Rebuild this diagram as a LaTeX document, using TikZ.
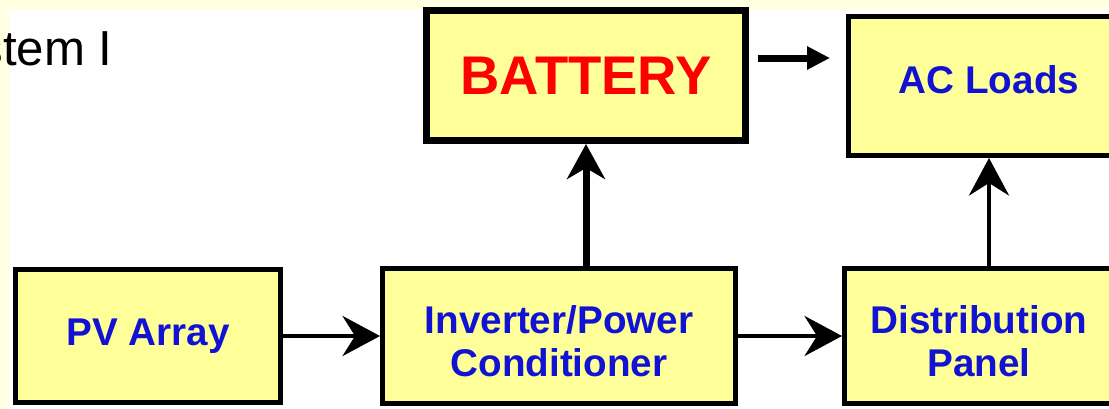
\documentclass[tikz,border=0pt]{standalone}
\usepackage{fontspec}
\setmainfont{Liberation Sans}
\usetikzlibrary{arrows.meta}
\definecolor{boxfill}{RGB}{255,255,153}
\definecolor{pageyellow}{RGB}{255,255,226}
\definecolor{labelblue}{RGB}{18,18,210}

\begin{document}
\begin{tikzpicture}[>=Stealth,x=0.02cm,y=-0.02cm]
  \tikzstyle{box}=[draw,fill=boxfill,line width=0.1cm,inner sep=0pt,align=center,text=labelblue,font=\fontsize{22}{24.5}\selectfont\bfseries]
  \tikzstyle{link}=[line width=0.09cm,-{Stealth[length=0.75cm,width=0.8cm,inset=0.25cm]}]
  \useasboundingbox (0,0) rectangle (1109,409);
  \clip (0,0) rectangle (1109,409);
  \fill[pageyellow] (0,0) rectangle (1109,409);
  \fill[white] (9,10) rectangle (1109,409);
  \node[anchor=base east,inner sep=0pt,font=\fontsize{28}{30}\selectfont] (title) at (113,65) {stem I};
  \node[box,minimum width=5.3cm,minimum height=2.66cm] (pv) at (148,336) {PV Array};
  \node[box,minimum width=7.06cm,minimum height=2.7cm] (inverter) at (559,336) {\rule{0pt}{0.78cm}Inverter/Power\\Conditioner};
  \node[box,minimum width=5.38cm,minimum height=2.7cm] (distrib) at (979,336) {\rule{0pt}{0.78cm}Distribution\\Panel};
  \node[box,line width=0.14cm,text=red,font=\fontsize{31}{34}\selectfont\bfseries,minimum width=6.38cm,minimum height=2.6cm] (battery) at (586,75.5) {BATTERY};
  \node[box,text depth=0.28cm,minimum width=5.62cm,minimum height=2.78cm] (acloads) at (989,86) {AC Loads};
  \draw[link] (pv) -- (inverter);
  \draw[link] (inverter) -- (distrib);
  \draw[link,line width=0.14cm,-{Stealth[length=0.7cm,width=0.76cm,inset=0.22cm]}] (inverter.north -| battery.south) -- (battery.south);
  \draw[link] (distrib.north -| acloads.south) -- (acloads.south);
  \draw[line width=0.14cm,-{Triangle[length=0.46cm,width=0.44cm]},shorten <=0.18cm,shorten >=0.32cm] (battery.east |- 0,58) -- (acloads.west |- 0,58);
\end{tikzpicture}
\end{document}
